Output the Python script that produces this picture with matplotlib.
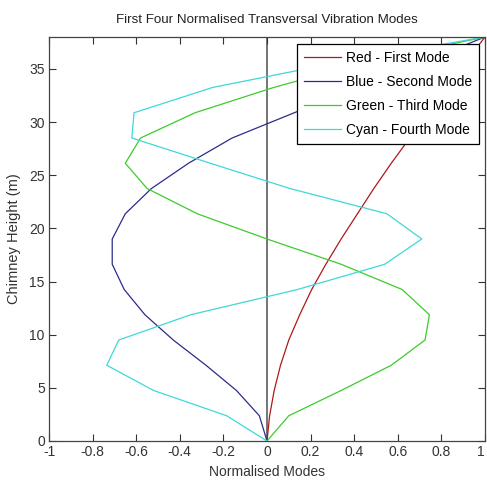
import matplotlib
matplotlib.use("Agg")
import matplotlib.pyplot as plt

plt.rcParams['font.family'] = ['Liberation Sans', 'DejaVu Sans']

heights = [0, 2.375, 4.75, 7.125, 9.5, 11.875, 14.25, 16.625, 19, 21.375,
           23.75, 26.125, 28.5, 30.875, 33.25, 35.625, 38]
mode1 = [0, 0.012, 0.033, 0.062, 0.10, 0.15, 0.205, 0.27, 0.34, 0.415,
         0.49, 0.57, 0.655, 0.74, 0.825, 0.91, 1.0]
mode2 = [0, -0.035, -0.14, -0.28, -0.43, -0.56, -0.655, -0.71, -0.71, -0.65,
         -0.53, -0.36, -0.16, 0.125, 0.42, 0.71, 1.0]
mode3 = [0, 0.10, 0.34, 0.57, 0.725, 0.745, 0.62, 0.34, 0.0, -0.32,
         -0.55, -0.65, -0.58, -0.33, 0.03, 0.45, 1.0]
mode4 = [0, -0.185, -0.52, -0.735, -0.68, -0.35, 0.14, 0.54, 0.71, 0.55,
         0.105, -0.26, -0.62, -0.61, -0.25, 0.33, 1.0]

labels = ['Red - First Mode', 'Blue - Second Mode', 'Green - Third Mode', 'Cyan - Fourth Mode']
colors = ['#b01818', '#2c2c88', '#3ccc2c', '#3ed8d8']

xticks = [-1, -0.8, -0.6, -0.4, -0.2, 0, 0.2, 0.4, 0.6, 0.8, 1]
xticklabels = ['-1', '-0.8', '-0.6', '-0.4', '-0.2', '0', '0.2', '0.4', '0.6', '0.8', '1']
yticks = [0, 5, 10, 15, 20, 25, 30, 35]

fig = plt.figure(figsize=(4.87, 4.80), dpi=100)
ax = fig.add_axes([49/487, 39/480, 436/487, 404/480])

ax.axvline(0, color='#505050', lw=1.1, zorder=1)
for m, lab, c in zip([mode1, mode2, mode3, mode4], labels, colors):
    ax.plot(m, heights, color=c, lw=0.9, label=lab, zorder=2)

ax.set_xlim(-1, 1)
ax.set_ylim(0, 38)
ax.set_xticks(xticks)
ax.set_xticklabels(xticklabels)
ax.set_yticks(yticks)
ax.tick_params(direction='in', length=5, width=0.8, top=True, right=True,
               labelsize=10, colors='#333333', pad=3)
xl = ax.get_xticklabels()
xl[-1].set_horizontalalignment('right')
xl[0].set_horizontalalignment('center')
for s in ax.spines.values():
    s.set_color('#444444')
    s.set_linewidth(0.9)

ax.set_title('First Four Normalised Transversal Vibration Modes', fontsize=9.6,
             color='#222222', pad=10)
ax.set_xlabel('Normalised Modes', fontsize=10, color='#333333', labelpad=4)
ax.set_ylabel('Chimney Height (m)', fontsize=10.5, color='#333333', labelpad=6)

leg = ax.legend(loc='upper right', bbox_to_anchor=(0.987, 0.982), borderaxespad=0,
                fancybox=False, edgecolor='black', fontsize=10, handlelength=2.7,
                handletextpad=0.35, labelspacing=0.72, borderpad=0.5, framealpha=1)
leg.get_frame().set_linewidth(0.9)

fig.savefig('out.png', dpi=100)
